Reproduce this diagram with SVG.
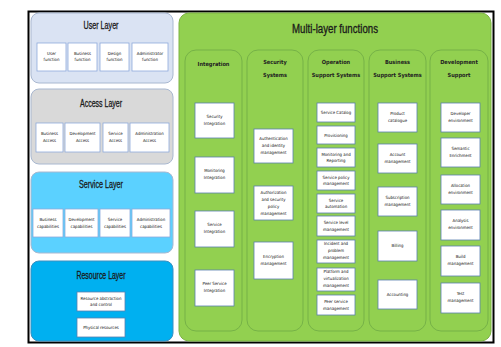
<svg xmlns="http://www.w3.org/2000/svg" width="501" height="347" viewBox="0 0 501 347">
<style>
text{font-family:"DejaVu Sans Condensed","Liberation Sans",sans-serif;fill:#111;text-anchor:middle}
.t{font-size:10px;font-family:"Liberation Sans",sans-serif;fill:#1a1a1a;stroke:#1a1a1a;stroke-width:0.3}
.mt{font-size:12px;font-family:"Liberation Sans",sans-serif;fill:#1a1a1a;stroke:#1a1a1a;stroke-width:0.3}
.h{font-size:5.6px;font-weight:bold;fill:#222}
.b{font-size:4.3px}
.box{fill:#fff;stroke:#8eaadb;stroke-width:0.8}
.gbox{fill:#fff;stroke:#5b7fb0;stroke-width:0.8}
.col{fill:#92d050;stroke:#6fa945;stroke-width:0.8}
</style>
<rect x="0" y="0" width="501" height="347" fill="#fff"/>
<rect x="28.5" y="11.5" width="465" height="331" fill="#fff" stroke="#000" stroke-width="2"/>

<g id="user-layer">
<rect x="31" y="13" width="142" height="70" rx="8" fill="#dae3f3" stroke="#a9b8d0" stroke-width="1"/>
<text class="t" x="101" y="29" textLength="35" lengthAdjust="spacingAndGlyphs">User Layer</text>
<rect class="box" x="37" y="43" width="29" height="28"/>
<text class="b" x="51.5" y="55">User</text><text class="b" x="51.5" y="61">function</text>
<rect class="box" x="68" y="43" width="29" height="28"/>
<text class="b" x="82.5" y="55">Business</text><text class="b" x="82.5" y="61">function</text>
<rect class="box" x="100" y="43" width="29" height="28"/>
<text class="b" x="114.5" y="55">Design</text><text class="b" x="114.5" y="61">function</text>
<rect class="box" x="132" y="43" width="36" height="28"/>
<text class="b" x="150" y="55">Administrator</text><text class="b" x="150" y="61">function</text>
</g>

<g id="access-layer">
<rect x="31" y="89" width="142" height="75" rx="8" fill="#d9d9d9" stroke="#a9b8d0" stroke-width="1"/>
<text class="t" x="101" y="107" textLength="42" lengthAdjust="spacingAndGlyphs">Access Layer</text>
<rect class="box" x="36" y="123" width="27" height="29"/>
<text class="b" x="49.5" y="135">Business</text><text class="b" x="49.5" y="142">Access</text>
<rect class="box" x="65" y="123" width="35" height="29"/>
<text class="b" x="82.5" y="135">Development</text><text class="b" x="82.5" y="142">Access</text>
<rect class="box" x="103" y="123" width="25" height="29"/>
<text class="b" x="115.5" y="135">Service</text><text class="b" x="115.5" y="142">Access</text>
<rect class="box" x="130" y="123" width="39" height="29"/>
<text class="b" x="149.5" y="135">Administration</text><text class="b" x="149.5" y="142">Access</text>
</g>

<g id="service-layer">
<rect x="31" y="172" width="142" height="81" rx="8" fill="#5bd1ff" stroke="#a9b8d0" stroke-width="1"/>
<text class="t" x="101" y="188" textLength="44" lengthAdjust="spacingAndGlyphs">Service Layer</text>
<rect class="box" x="33" y="209" width="30" height="28"/>
<text class="b" x="48" y="221">Business</text><text class="b" x="48" y="228">capabilities</text>
<rect class="box" x="65" y="209" width="33" height="28"/>
<text class="b" x="81.5" y="221">Development</text><text class="b" x="81.5" y="228">capabilities</text>
<rect class="box" x="100" y="209" width="30" height="28"/>
<text class="b" x="115" y="221">Service</text><text class="b" x="115" y="228">capabilities</text>
<rect class="box" x="132" y="209" width="38" height="28"/>
<text class="b" x="151" y="221">Administration</text><text class="b" x="151" y="228">capabilities</text>
</g>

<g id="resource-layer">
<rect x="31" y="261" width="142" height="80" rx="8" fill="#00b0f0" stroke="#3a8fc0" stroke-width="1"/>
<text class="t" x="101" y="279" textLength="49" lengthAdjust="spacingAndGlyphs">Resource Layer</text>
<rect class="gbox" x="77" y="292" width="48" height="19"/>
<text class="b" x="101" y="300">Resource abstraction</text><text class="b" x="101" y="306">and control</text>
<rect class="gbox" x="77" y="318" width="48" height="19"/>
<text class="b" x="101" y="329">Physical resources</text>
</g>

<g id="multi-layer-functions">
<rect x="179" y="13" width="312" height="328" rx="10" fill="#92d050" stroke="#7cb342" stroke-width="1"/>
<text class="mt" x="335" y="33" textLength="86" lengthAdjust="spacingAndGlyphs">Multi-layer functions</text>
</g>

<g id="integration">
<rect class="col" x="185" y="50" width="57" height="281" rx="11"/>
<text class="h" x="213.5" y="66">Integration</text>
<rect class="gbox" x="195" y="103" width="39" height="35"/>
<text class="b" x="214.5" y="118">Security</text><text class="b" x="214.5" y="125">Integration</text>
<rect class="gbox" x="195" y="157" width="39" height="36"/>
<text class="b" x="214.5" y="172">Monitoring</text><text class="b" x="214.5" y="179">Integration</text>
<rect class="gbox" x="195" y="211" width="39" height="36"/>
<text class="b" x="214.5" y="226">Service</text><text class="b" x="214.5" y="233">Integration</text>
<rect class="gbox" x="195" y="270" width="39" height="36"/>
<text class="b" x="214.5" y="285">Peer Service</text><text class="b" x="214.5" y="292">Integration</text>
</g>

<g id="security-systems">
<rect class="col" x="247" y="50" width="56" height="281" rx="11"/>
<text class="h" x="275" y="64">Security</text><text class="h" x="275" y="77">Systems</text>
<rect class="gbox" x="254" y="129" width="39" height="34"/>
<text class="b" x="273.5" y="140">Authentication</text><text class="b" x="273.5" y="147">and identity</text><text class="b" x="273.5" y="154">management</text>
<rect class="gbox" x="254" y="186" width="39" height="34"/>
<text class="b" x="273.5" y="194">Authorization</text><text class="b" x="273.5" y="201">and security</text><text class="b" x="273.5" y="208">policy</text><text class="b" x="273.5" y="215">management</text>
<rect class="gbox" x="254" y="242" width="39" height="37"/>
<text class="b" x="273.5" y="258">Encryption</text><text class="b" x="273.5" y="265">management</text>
</g>

<g id="operation-support-systems">
<rect class="col" x="308" y="50" width="56" height="281" rx="11"/>
<text class="h" x="336" y="64">Operation</text><text class="h" x="336" y="77">Support Systems</text>
<rect class="gbox" x="317" y="103" width="38" height="19"/>
<text class="b" x="336" y="114">Service Catalog</text>
<rect class="gbox" x="317" y="126" width="38" height="18"/>
<text class="b" x="336" y="136.5">Provisioning</text>
<rect class="gbox" x="317" y="148" width="38" height="19"/>
<text class="b" x="336" y="156">Monitoring and</text><text class="b" x="336" y="162">Reporting</text>
<rect class="gbox" x="317" y="171" width="38" height="19"/>
<text class="b" x="336" y="179">Service policy</text><text class="b" x="336" y="185">management</text>
<rect class="gbox" x="317" y="194" width="38" height="19"/>
<text class="b" x="336" y="202">Service</text><text class="b" x="336" y="208">automation</text>
<rect class="gbox" x="317" y="216" width="38" height="20"/>
<text class="b" x="336" y="224">Service level</text><text class="b" x="336" y="231">management</text>
<rect class="gbox" x="317" y="240" width="38" height="23"/>
<text class="b" x="336" y="245">Incident and</text><text class="b" x="336" y="252">problem</text><text class="b" x="336" y="259">management</text>
<rect class="gbox" x="317" y="268" width="38" height="23"/>
<text class="b" x="336" y="273">Platform and</text><text class="b" x="336" y="280">virtualization</text><text class="b" x="336" y="287">management</text>
<rect class="gbox" x="317" y="295" width="38" height="20"/>
<text class="b" x="336" y="303">Peer service</text><text class="b" x="336" y="310">management</text>
</g>

<g id="business-support-systems">
<rect class="col" x="369" y="50" width="57" height="281" rx="11"/>
<text class="h" x="397.5" y="64">Business</text><text class="h" x="397.5" y="77">Support Systems</text>
<rect class="gbox" x="378" y="103" width="39" height="29"/>
<text class="b" x="397.5" y="115">Product</text><text class="b" x="397.5" y="122">catalogue</text>
<rect class="gbox" x="378" y="144" width="39" height="29"/>
<text class="b" x="397.5" y="156">Account</text><text class="b" x="397.5" y="163">management</text>
<rect class="gbox" x="378" y="187" width="39" height="29"/>
<text class="b" x="397.5" y="199">Subscription</text><text class="b" x="397.5" y="206">management</text>
<rect class="gbox" x="378" y="231" width="39" height="30"/>
<text class="b" x="397.5" y="247">Billing</text>
<rect class="gbox" x="378" y="280" width="39" height="29"/>
<text class="b" x="397.5" y="296">Accounting</text>
</g>

<g id="development-support">
<rect class="col" x="430" y="50" width="58" height="281" rx="11"/>
<text class="h" x="459" y="64">Development</text><text class="h" x="459" y="77">Support</text>
<rect class="gbox" x="441" y="103" width="39" height="29"/>
<text class="b" x="460.5" y="115">Developer</text><text class="b" x="460.5" y="122">environment</text>
<rect class="gbox" x="441" y="138" width="39" height="29"/>
<text class="b" x="460.5" y="150">Semantic</text><text class="b" x="460.5" y="157">Enrichment</text>
<rect class="gbox" x="441" y="175" width="39" height="29"/>
<text class="b" x="460.5" y="187">Allocation</text><text class="b" x="460.5" y="194">environment</text>
<rect class="gbox" x="441" y="210" width="39" height="30"/>
<text class="b" x="460.5" y="222">Analysis</text><text class="b" x="460.5" y="229">environment</text>
<rect class="gbox" x="441" y="246" width="39" height="30"/>
<text class="b" x="460.5" y="258">Build</text><text class="b" x="460.5" y="265">management</text>
<rect class="gbox" x="441" y="283" width="39" height="30"/>
<text class="b" x="460.5" y="295">Test</text><text class="b" x="460.5" y="302">management</text>
</g>
<g id="connectors"></g>
</svg>
